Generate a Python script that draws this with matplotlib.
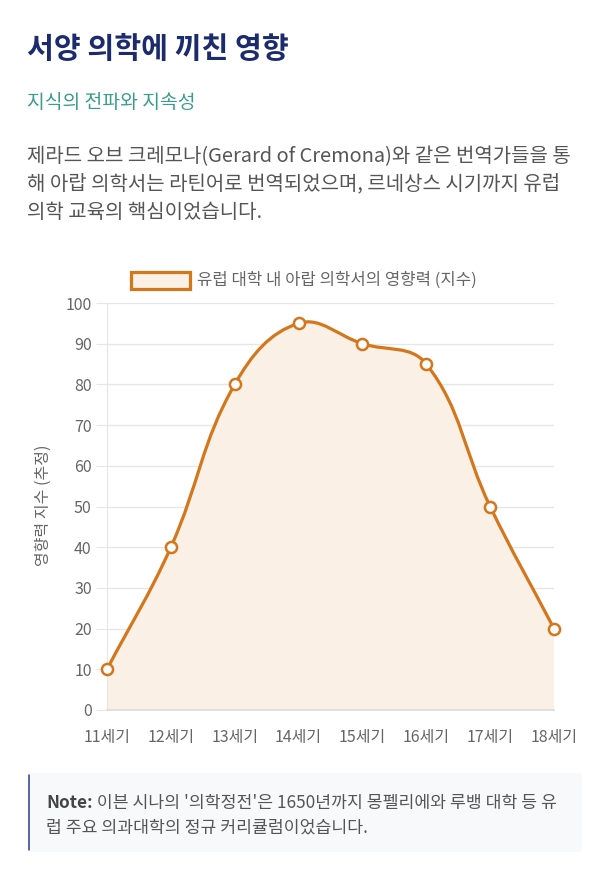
import numpy as np
import matplotlib
matplotlib.use("Agg")
import matplotlib.pyplot as plt
from matplotlib.path import Path
from matplotlib.patches import PathPatch, Rectangle, FancyBboxPatch

plt.rcParams['font.family'] = ['Noto Sans CJK KR', 'DejaVu Sans']

categories = ['11세기', '12세기', '13세기', '14세기', '15세기', '16세기', '17세기', '18세기']
values = [10, 40, 80, 95, 90, 85, 50, 20]
series_label = '유럽 대학 내 아랍 의학서의 영향력 (지수)'
y_ticks = [0, 10, 20, 30, 40, 50, 60, 70, 80, 90, 100]

title = '서양 의학에 끼친 영향'
subtitle = '지식의 전파와 지속성'
body_lines = ['제라드 오브 크레모나(Gerard of Cremona)와 같은 번역가들을 통',
              '해 아랍 의학서는 라틴어로 번역되었으며, 르네상스 시기까지 유럽',
              '의학 교육의 핵심이었습니다.']
note_bold = 'Note:'
note_lines = [" 이븐 시나의 '의학정전'은 1650년까지 몽펠리에와 루뱅 대학 등 유",
              "럽 주요 의과대학의 정규 커리큘럼이었습니다."]

W, H = 603, 875
fig = plt.figure(figsize=(W / 100, H / 100), dpi=100)
fig.patch.set_facecolor('white')

def fx(px):
    return px / W

def fy(py):
    return 1 - py / H

LINE = '#d4761c'
FILL = '#fbf0e6'
GRID = '#e6e6e6'
TICK = '#666666'

# Header text
fig.text(fx(27), fy(49), title, fontsize=21, fontweight='bold', color='#1c2a6e', va='center', ha='left')
fig.text(fx(27), fy(103), subtitle, fontsize=13.9, fontweight='medium', color='#3a9c8c', va='center', ha='left')
for i, ln in enumerate(body_lines):
    fig.text(fx(27), fy(157 + 28 * i), ln, fontsize=14.4, color='#555555', va='center', ha='left')

# Chart axes
x0, x1, ytop, ybot = 107, 554, 303, 710
ax = fig.add_axes([fx(x0), fy(ybot), (x1 - x0) / W, (ybot - ytop) / H])
xs = np.arange(len(categories))
ax.set_xlim(0, len(categories) - 1)
ax.set_ylim(0, 100)

# Chart.js-style bezier spline (tension 0.4) computed in pixel space
pts = np.array([[x0 + (x1 - x0) * i / (len(xs) - 1), ybot - (ybot - ytop) * v / 100] for i, v in zip(xs, values)])
t = 0.4
cps = []
for i in range(len(pts)):
    prev = pts[i - 1] if i > 0 else pts[i]
    nxt = pts[i + 1] if i < len(pts) - 1 else pts[i]
    cur = pts[i]
    d01 = np.hypot(*(cur - prev))
    d12 = np.hypot(*(nxt - cur))
    tot = d01 + d12
    s01 = d01 / tot if tot else 0
    s12 = d12 / tot if tot else 0
    fa, fb = t * s01, t * s12
    cp_prev = cur - fa * (nxt - prev)
    cp_next = cur + fb * (nxt - prev)
    cp_prev[1] = min(max(cp_prev[1], ytop), ybot)
    cp_next[1] = min(max(cp_next[1], ytop), ybot)
    cps.append((cp_prev, cp_next))

def to_data(p):
    return [(p[0] - x0) / (x1 - x0) * (len(xs) - 1), (ybot - p[1]) / (ybot - ytop) * 100]

verts = [to_data(pts[0])]
codes = [Path.MOVETO]
for i in range(len(pts) - 1):
    verts += [to_data(cps[i][1]), to_data(cps[i + 1][0]), to_data(pts[i + 1])]
    codes += [Path.CURVE4] * 3
line_path = Path(verts, codes)

fill_verts = verts + [[xs[-1], 0], [xs[0], 0], verts[0]]
fill_codes = codes + [Path.LINETO, Path.LINETO, Path.CLOSEPOLY]
ax.add_patch(PathPatch(Path(fill_verts, fill_codes), facecolor=FILL, edgecolor='none', zorder=1))
ax.add_patch(PathPatch(line_path, facecolor='none', edgecolor=LINE, linewidth=2.3, zorder=3, capstyle='round', joinstyle='round'))
ax.plot(xs, values, linestyle='none', marker='o', markersize=8, markerfacecolor='white',
        markeredgecolor=LINE, markeredgewidth=1.8, zorder=4, clip_on=False)

ax.set_yticks(y_ticks)
ax.set_xticks(xs)
ax.set_xticklabels(categories)
ax.grid(axis='y', color=GRID, linewidth=1, zorder=0)
ax.set_axisbelow(True)
for s in ['top', 'right']:
    ax.spines[s].set_visible(False)
ax.spines['left'].set_color(GRID)
ax.spines['bottom'].set_color('#dcdcdc')
ax.spines['bottom'].set_linewidth(1.2)
ax.tick_params(axis='y', length=8, color=GRID, labelsize=11.5, labelcolor=TICK, pad=3)
ax.tick_params(axis='x', length=0, labelsize=11.5, labelcolor=TICK, pad=14)
ax.set_facecolor('none')

fig.text(fx(43), fy(505), '영향력 지수 (추정)', rotation=90, fontsize=11.5, color=TICK, ha='center', va='center')

# Legend
fig.patches.append(Rectangle((fx(131), fy(289)), (190 - 131) / W, 17 / H, transform=fig.transFigure,
                             facecolor=FILL, edgecolor=LINE, linewidth=2.3))
fig.text(fx(197), fy(280), series_label, fontsize=12, color=TICK, ha='left', va='center')

# Note box
fig.patches.append(FancyBboxPatch((fx(29), fy(852)), (582 - 29) / W, (852 - 773) / H,
                                  boxstyle='round,pad=0,rounding_size=0.006', transform=fig.transFigure,
                                  facecolor='#f8f9fb', edgecolor='none'))
fig.patches.append(FancyBboxPatch((fx(28), fy(851)), 2 / W, (851 - 774) / H,
                                  boxstyle='round,pad=0,rounding_size=0.002', transform=fig.transFigure,
                                  facecolor='#5a68a8', edgecolor='none'))
tb = fig.text(fx(46), fy(803), note_bold, fontsize=12.4, fontweight='bold', color='#444444', ha='left', va='center')
fig.canvas.draw()
bb = tb.get_window_extent()
fig.text(bb.x1 / W, fy(803), note_lines[0], fontsize=12.4, color='#555555', ha='left', va='center')
fig.text(fx(46), fy(827), note_lines[1], fontsize=12.4, color='#555555', ha='left', va='center')

fig.savefig('out.png', dpi=100, facecolor='white')
